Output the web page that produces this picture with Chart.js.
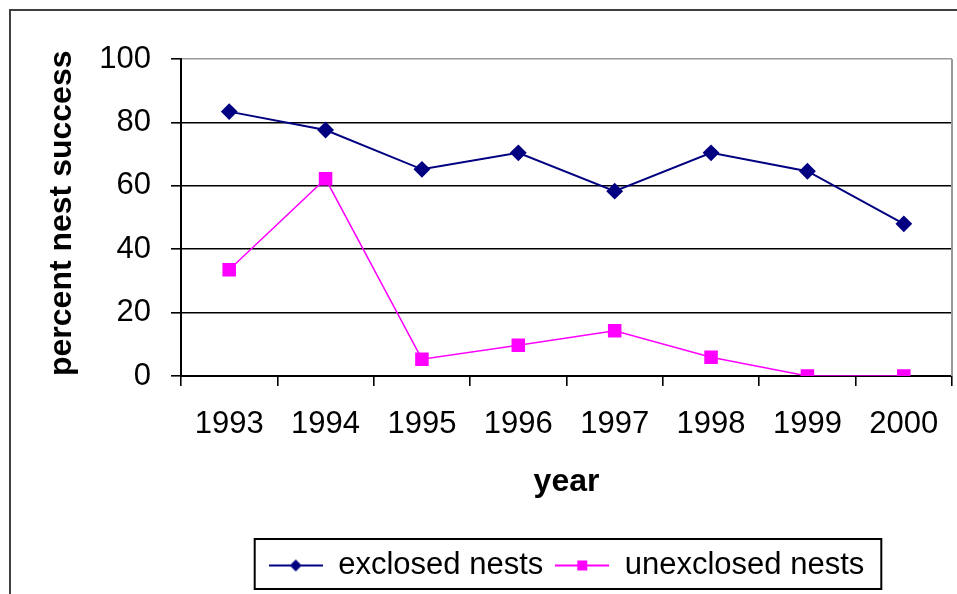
<!DOCTYPE html>
<html>
<head>
<meta charset="utf-8">
<title>percent nest success</title>
<script src="https://cdn.jsdelivr.net/npm/chart.js@4"></script>
<style>
    html, body { margin: 0; padding: 0; background: #fff; }
    #chart-container { width: 957px; height: 594px; position: relative; }
</style>
</head>
<body>
<div id="chart-container"><canvas id="main-chart"></canvas></div>
<script>
// dados
const years = ['1993', '1994', '1995', '1996', '1997', '1998', '1999', '2000'];
const exclosedNests = [83.4, 77.6, 65.2, 70.4, 58.3, 70.4, 64.6, 48.0];
const unexclosedNests = [33.5, 62.2, 5.3, 9.7, 14.3, 5.9, 0, 0];
const yTicks = [0, 20, 40, 60, 80, 100];

const NAVY = '#000080';
const MAGENTA = '#FF00FF';
const FONT = 'Arial, "Liberation Sans", sans-serif';

/**
 * Cria o ícone da legenda (linha com marcador no meio).
 */
function legendIcon(color, style) {
    const c = document.createElement('canvas');
    c.width = 54;
    c.height = 16;
    const ctx = c.getContext('2d');
    ctx.strokeStyle = color;
    ctx.lineWidth = 2;
    ctx.beginPath();
    ctx.moveTo(0, 8);
    ctx.lineTo(54, 8);
    ctx.stroke();
    ctx.fillStyle = color;
    ctx.beginPath();
    if (style === 'diamond') {
        ctx.moveTo(27, 2);
        ctx.lineTo(33, 8);
        ctx.lineTo(27, 14);
        ctx.lineTo(21, 8);
        ctx.closePath();
    } else {
        ctx.rect(22, 3, 10, 10);
    }
    ctx.fill();
    return c;
}

const legendIcons = [legendIcon(NAVY, 'diamond'), legendIcon(MAGENTA, 'square')];

// moldura externa, borda direita da área do gráfico e caixa da legenda
const framePlugin = {
    id: 'frame',
    beforeDraw(chart) {
        const ctx = chart.ctx;
        ctx.save();
        ctx.strokeStyle = '#404040';
        ctx.lineWidth = 2;
        ctx.strokeRect(10, 10, 2000, 2000);
        ctx.restore();
    },
    afterDraw(chart) {
        const ctx = chart.ctx;
        const area = chart.chartArea;
        ctx.save();
        ctx.strokeStyle = '#999';
        ctx.lineWidth = 2;
        ctx.beginPath();
        ctx.moveTo(area.right, area.top);
        ctx.lineTo(area.right, area.bottom);
        ctx.stroke();

        const legend = chart.legend;
        if (legend && legend.legendHitBoxes.length) {
            const boxes = legend.legendHitBoxes;
            const left = Math.min(...boxes.map(b => b.left)) - 14;
            const right = Math.max(...boxes.map(b => b.left + b.width)) + 17;
            ctx.strokeStyle = '#000';
            ctx.lineWidth = 2;
            ctx.strokeRect(left, legend.top + 1, right - left, legend.height - 3);
        }
        ctx.restore();
    }
};

function renderChart() {
    const canvas = document.getElementById('main-chart');

    new Chart(canvas, {
        type: 'line',
        data: {
            labels: years,
            datasets: [{
                label: 'exclosed nests',
                data: exclosedNests,
                borderColor: NAVY,
                backgroundColor: NAVY,
                borderWidth: 2,
                pointStyle: 'rectRot',
                pointRadius: 7,
                pointHoverRadius: 7,
                tension: 0
            }, {
                label: 'unexclosed nests',
                data: unexclosedNests,
                borderColor: MAGENTA,
                backgroundColor: MAGENTA,
                borderWidth: 1.5,
                pointStyle: 'rect',
                pointRadius: 8.5,
                pointHoverRadius: 8.5,
                tension: 0
            }]
        },
        options: {
            responsive: true,
            maintainAspectRatio: false,
            animation: false,
            layout: { autoPadding: false, padding: { left: 0, top: 59, right: 5, bottom: 3 } },
            scales: {
                x: {
                    offset: true,
                    grid: {
                        offset: true,
                        drawOnChartArea: false,
                        drawTicks: true,
                        tickLength: 10,
                        tickColor: '#000',
                        lineWidth: 1.6
                    },
                    border: { display: true, color: '#000', width: 2 },
                    ticks: {
                        color: '#000',
                        font: { family: FONT, size: 31 },
                        padding: 20,
                        maxRotation: 0,
                        autoSkip: false
                    },
                    title: {
                        display: true,
                        text: 'year',
                        color: '#000',
                        font: { family: FONT, size: 32, weight: 'bold' },
                        padding: { top: 0, bottom: 37 }
                    },
                    afterFit(scale) {
                        scale.height = 162;
                        scale.paddingLeft = 0;
                        scale.paddingRight = 0;
                    }
                },
                y: {
                    min: 0,
                    max: 100,
                    afterBuildTicks(scale) { scale.ticks = yTicks.map(v => ({ value: v })); },
                    grid: {
                        color: ctx => (ctx.tick && ctx.tick.value === 100 ? '#999' : '#000'),
                        lineWidth: 1.6,
                        tickLength: 10,
                        tickColor: '#000'
                    },
                    border: { display: true, color: '#000', width: 2 },
                    ticks: {
                        color: '#000',
                        font: { family: FONT, size: 31 },
                        padding: 20
                    },
                    title: {
                        display: true,
                        text: 'percent nest success',
                        align: 'start',
                        color: '#000',
                        font: { family: FONT, size: 32, weight: 'bold' },
                        padding: { top: 43, bottom: 0 }
                    },
                    afterFit(scale) { scale.width = 181; }
                }
            },
            plugins: {
                legend: {
                    position: 'bottom',
                    fullSize: false,
                    labels: {
                        usePointStyle: true,
                        pointStyleWidth: 54,
                        color: '#000',
                        font: { family: FONT, size: 31 },
                        padding: 12,
                        generateLabels(chart) {
                            const items = Chart.defaults.plugins.legend.labels.generateLabels(chart);
                            items.forEach((item, i) => { item.pointStyle = legendIcons[i]; });
                            return items;
                        }
                    }
                },
                tooltip: { enabled: false }
            }
        },
        plugins: [framePlugin]
    });
}

renderChart();
</script>
</body>
</html>
